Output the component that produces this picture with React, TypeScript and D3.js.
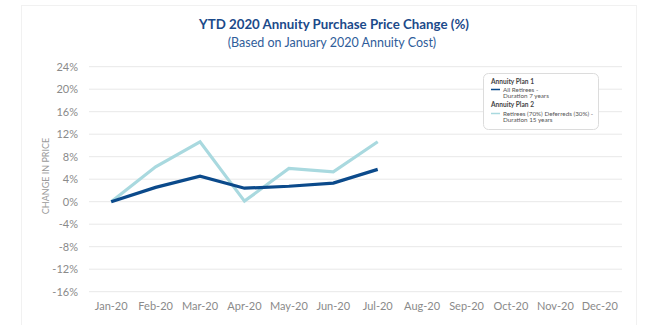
import React from "react";
import * as d3 from "d3";

const months = ["Jan-20","Feb-20","Mar-20","Apr-20","May-20","Jun-20","Jul-20","Aug-20","Sep-20","Oct-20","Nov-20","Dec-20"];
const plan1 = [0, 2.55, 4.55, 2.4, 2.75, 3.3, 5.75];
const plan2 = [0, 6.2, 10.65, 0.1, 5.9, 5.3, 10.65];
const yTicks = [24, 20, 16, 12, 8, 4, 0, -4, -8, -12, -16];

const W = 650, H = 325;
const DARK = "#0b4a8b";
const LIGHT = "#a9d9df";
const FONT = "Lato, 'Noto Sans', sans-serif";

export default function App() {
  const x = d3.scaleBand<string>().domain(months).range([89, 622]).padding(0);
  const y = d3.scaleLinear().domain([-16, 24]).range([291.7, 66.7]);
  const cx = (i: number) => (x(months[i]) as number) + x.bandwidth() / 2;
  const line = d3.line<number>().x((_, i) => cx(i)).y((d) => y(d));

  return (
    <svg width={W} height={H} style={{ position: "absolute", left: 0, top: 0, background: "#fff" }} fontFamily={FONT}>
      <rect x={21.5} y={5.5} width={615} height={340} fill="none" stroke="#f1f1f1" strokeWidth={1} />
      <text x={334} y={29} textAnchor="middle" fontSize={13.3} fontWeight={700} fill="#1b4a8a">YTD 2020 Annuity Purchase Price Change (%)</text>
      <text x={332} y={47} textAnchor="middle" fontSize={12.5} fill="#2f5d9a">(Based on January 2020 Annuity Cost)</text>

      {yTicks.map((t) => (
        <g key={t}>
          <line x1={89} x2={622} y1={y(t)} y2={y(t)} stroke="#e8e8e8" strokeWidth={1} />
          <text x={78} y={y(t) + 4} textAnchor="end" fontSize={11} fill="#8a8a8a">{t}%</text>
        </g>
      ))}
      <text transform={`translate(48.5,176) rotate(-90)`} textAnchor="middle" fontSize={9} fill="#9a9a9a">CHANGE IN PRICE</text>

      {months.map((m, i) => (
        <text key={m} x={cx(i)} y={310} textAnchor="middle" fontSize={11} fill="#8a8a8a">{m}</text>
      ))}

      <path d={line(plan2) || ""} fill="none" stroke={LIGHT} strokeWidth={3.2} strokeLinejoin="miter" />
      <path d={line(plan1) || ""} fill="none" stroke={DARK} strokeWidth={3.2} strokeLinejoin="miter" />

      <g>
        <rect x={483.5} y={73.5} width={115} height={56} rx={5} fill="#fff" stroke="#dcdcdc" strokeWidth={1} />
        <text x={491} y={84} fontSize={6.6} fontWeight={700} fill="#444">Annuity Plan 1</text>
        <line x1={491} x2={500} y1={89.5} y2={89.5} stroke={DARK} strokeWidth={1.5} />
        <text x={503} y={91.5} fontSize={6.3} fill="#555">All Retirees -</text>
        <text x={503} y={98} fontSize={6.3} fill="#555">Duration 7 years</text>
        <text x={491} y={107} fontSize={6.6} fontWeight={700} fill="#444">Annuity Plan 2</text>
        <line x1={491} x2={500} y1={113.5} y2={113.5} stroke={LIGHT} strokeWidth={1.5} />
        <text x={503} y={115.5} fontSize={6.3} fill="#555">Retirees (70%) Deferreds (30%) -</text>
        <text x={503} y={122} fontSize={6.3} fill="#555">Duration 15 years</text>
      </g>
    </svg>
  );
}
